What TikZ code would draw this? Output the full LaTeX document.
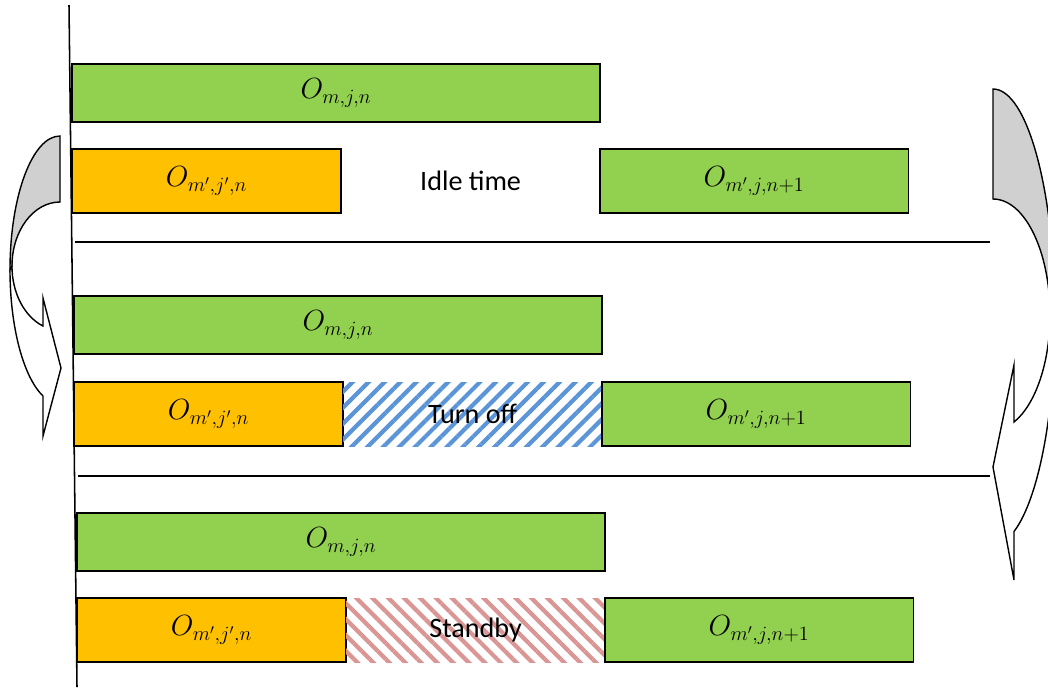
\documentclass[tikz,border=0pt]{standalone}
\usepackage{fontspec}
\setmainfont{Carlito}
\usepackage{tikz}
\usetikzlibrary{positioning, patterns.meta}
\definecolor{opgreen}{HTML}{92D050}
\definecolor{oporange}{HTML}{FFC000}
\definecolor{offblue}{HTML}{5B95D8}
\definecolor{standbyred}{HTML}{D99694}
\definecolor{backgrey}{HTML}{D0D0D0}

\begin{document}
\begin{tikzpicture}[x=0.025cm, y=-0.025cm,
    opbox/.style={draw=black, line width=1pt, outer sep=0pt, inner sep=0pt, minimum height=1.6cm, anchor=north west, font=\fontsize{20}{24}\selectfont},
    longop/.style={opbox, fill=opgreen, minimum width=13.2cm, minimum height=1.45cm},
    firstop/.style={opbox, fill=oporange, minimum width=6.725cm},
    nextop/.style={opbox, fill=opgreen, minimum width=7.7cm},
    gapbox/.style={opbox, draw=none, minimum width=6.475cm},
    offbox/.style={gapbox, pattern={Lines[angle=45, distance=8pt, line width=3pt]}, pattern color=offblue},
    sbybox/.style={gapbox, pattern={Lines[angle=-45, distance=8pt, line width=3pt]}, pattern color=standbyred},
    sepline/.style={line width=0.8pt},
    arrowback/.style={fill=backgrey, draw=black, line width=1pt},
    arrowfront/.style={fill=white, draw=black, line width=1pt}
]
    \useasboundingbox (0,0) rectangle (1048,687);

    \node[longop] (g1) at (72,64) {$O_{m,j,n}$};
    \node[firstop] (o1) at (72,149) {$O_{m',j',n}$};
    \node[gapbox, right=0pt of o1] (idle) {Idle time};
    \node[nextop, right=0pt of idle] (n1) {$O_{m',j,n+1}$};

    \node[longop] (g2) at (74,296) {$O_{m,j,n}$};
    \node[firstop] (o2) at (74,382) {$O_{m',j',n}$};
    \node[offbox, right=0pt of o2] (off) {Turn off};
    \node[nextop, right=0pt of off] (n2) {$O_{m',j,n+1}$};

    \node[longop] (g3) at (77,513) {$O_{m,j,n}$};
    \node[firstop] (o3) at (77,598) {$O_{m',j',n}$};
    \node[sbybox, right=0pt of o3] (sby) {Standby};
    \node[nextop, right=0pt of sby] (n3) {$O_{m',j,n+1}$};

    \coordinate (axtop) at (69,5);
    \coordinate (axbot) at (77,687);
    \coordinate (sepa1) at (75,242);
    \coordinate (sepa2) at (990,242);
    \coordinate (sepb1) at (78,476);
    \coordinate (sepb2) at (990,476);
    \draw[line width=1.1pt] (axtop) -- (axbot);
    \draw[sepline] (sepa1) -- (sepa2);
    \draw[sepline] (sepb1) -- (sepb2);

    \filldraw[arrowback] (60,136) arc[start angle=-90, end angle=-180, x radius=50, y radius=134]
        -- (12,266) arc[start angle=180, end angle=270, x radius=48, y radius=64] -- cycle;
    \filldraw[arrowfront] (10,270) arc[start angle=180, end angle=109.9, x radius=50, y radius=134]
        -- (43,436) -- (61,368) -- (43,298) -- (43,326)
        arc[start angle=110.7, end angle=180, x radius=48, y radius=64] -- cycle;

    \filldraw[arrowback] (993,89) arc[start angle=-90, end angle=0, x radius=62, y radius=228]
        -- (1050,314.5) arc[start angle=0, end angle=-90, x radius=57, y radius=115.5] -- cycle;
    \filldraw[arrowfront] (1055,317) arc[start angle=0, end angle=70.2, x radius=62, y radius=228]
        -- (1014,580) -- (993,467) -- (1014,365) -- (1014,422)
        arc[start angle=68.4, end angle=0, x radius=57, y radius=115.5] -- cycle;
\end{tikzpicture}
\end{document}
